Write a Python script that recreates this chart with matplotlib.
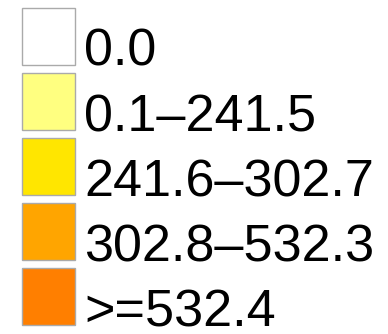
import matplotlib
matplotlib.use("Agg")
import matplotlib.pyplot as plt
from matplotlib.patches import Rectangle

labels = ["0.0", "0.1\u2013241.5", "241.6\u2013302.7", "302.8\u2013532.3", ">=532.4"]
colors = ["#ffffff", "#ffff80", "#ffe600", "#ffa500", "#ff7f00"]

W, H = 388, 334
fig = plt.figure(figsize=(W / 100, H / 100), dpi=100)
ax = fig.add_axes([0, 0, 1, 1])
ax.set_xlim(0, W)
ax.set_ylim(H, 0)
ax.axis("off")

pitch = 65.2
for i, (lab, col) in enumerate(zip(labels, colors)):
    top = 7.5 + i * pitch
    ax.add_patch(Rectangle((21.5, top), 53, 57, facecolor=col,
                           edgecolor="#aaaaaa", linewidth=1.0))
    ax.text(84, top + 58.5, lab, fontsize=37.5, family="Liberation Sans",
            ha="left", va="baseline", color="black")

fig.savefig("out.png", dpi=100)
